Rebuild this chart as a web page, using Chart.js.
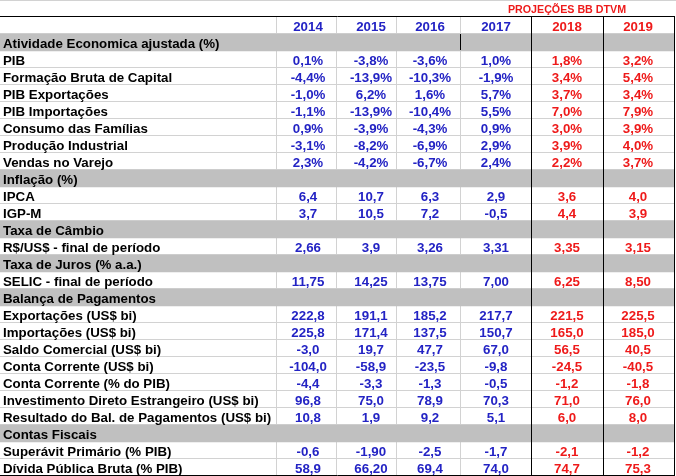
<!DOCTYPE html>
<html>
<head>
<meta charset="utf-8">
<script src="https://cdn.jsdelivr.net/npm/chart.js@4"></script>
<style>
  html, body { margin: 0; padding: 0; background: #fff; }
  canvas { display: block; }
</style>
</head>
<body>
<canvas id="tabela" width="676" height="476"></canvas>
<script>
const years = ['2014', '2015', '2016', '2017', '2018', '2019'];
const firstProjected = 4; // 2018 and 2019 are BB DTVM projections
const projTitle = 'PROJEÇÕES BB DTVM';

const sections = ['Atividade Economica ajustada (%)', 'Inflação (%)', 'Taxa de Câmbio',
  'Taxa de Juros (% a.a.)', 'Balança de Pagamentos', 'Contas Fiscais'];

const rows = [
  'Atividade Economica ajustada (%)', 'PIB', 'Formação Bruta de Capital', 'PIB Exportações',
  'PIB Importações', 'Consumo das Famílias', 'Produção Industrial', 'Vendas no Varejo',
  'Inflação (%)', 'IPCA', 'IGP-M',
  'Taxa de Câmbio', 'R$/US$ - final de período',
  'Taxa de Juros (% a.a.)', 'SELIC - final de período',
  'Balança de Pagamentos', 'Exportações (US$ bi)', 'Importações (US$ bi)', 'Saldo Comercial (US$ bi)',
  'Conta Corrente (US$ bi)', 'Conta Corrente (% do PIB)', 'Investimento Direto Estrangeiro (US$ bi)',
  'Resultado do Bal. de Pagamentos (US$ bi)',
  'Contas Fiscais', 'Superávit Primário (% PIB)', 'Dívida Pública Bruta (% PIB)'
];

const v2014 = [null, '0,1%', '-4,4%', '-1,0%', '-1,1%', '0,9%', '-3,1%', '2,3%', null, '6,4', '3,7', null, '2,66', null, '11,75',
  null, '222,8', '225,8', '-3,0', '-104,0', '-4,4', '96,8', '10,8', null, '-0,6', '58,9'];
const v2015 = [null, '-3,8%', '-13,9%', '6,2%', '-13,9%', '-3,9%', '-8,2%', '-4,2%', null, '10,7', '10,5', null, '3,9', null, '14,25',
  null, '191,1', '171,4', '19,7', '-58,9', '-3,3', '75,0', '1,9', null, '-1,90', '66,20'];
const v2016 = [null, '-3,6%', '-10,3%', '1,6%', '-10,4%', '-4,3%', '-6,9%', '-6,7%', null, '6,3', '7,2', null, '3,26', null, '13,75',
  null, '185,2', '137,5', '47,7', '-23,5', '-1,3', '78,9', '9,2', null, '-2,5', '69,4'];
const v2017 = [null, '1,0%', '-1,9%', '5,7%', '5,5%', '0,9%', '2,9%', '2,4%', null, '2,9', '-0,5', null, '3,31', null, '7,00',
  null, '217,7', '150,7', '67,0', '-9,8', '-0,5', '70,3', '5,1', null, '-1,7', '74,0'];
const v2018 = [null, '1,8%', '3,4%', '3,7%', '7,0%', '3,0%', '3,9%', '2,2%', null, '3,6', '4,4', null, '3,35', null, '6,25',
  null, '221,5', '165,0', '56,5', '-24,5', '-1,2', '71,0', '6,0', null, '-2,1', '74,7'];
const v2019 = [null, '3,2%', '5,4%', '3,4%', '7,9%', '3,9%', '4,0%', '3,7%', null, '4,0', '3,9', null, '3,15', null, '8,50',
  null, '225,5', '185,0', '40,5', '-40,5', '-1,8', '76,0', '8,0', null, '-1,2', '75,3'];
const columns = [v2014, v2015, v2016, v2017, v2018, v2019];

// layout (x axis units = sheet pixels)
const colEdges = [0, 276, 336, 396, 460, 531, 603, 674];
const colCenters = [308, 371, 430, 496, 567, 638];
const labelX = 3;
const FONT = '"Liberation Sans", Arial, sans-serif';
const BLUE = '#2323c4';
const RED = '#ee1a1a';

// category rows: title row, year header row, then the sheet rows
const categories = ['proj', 'anos'].concat(rows);
const grayBands = categories.map(c => sections.includes(c) ? [colEdges[0], colEdges[colEdges.length - 1]] : null);

const tablePlugin = {
  id: 'tablePlugin',
  beforeDatasetsDraw(chart) {
    const { ctx, scales: { x, y } } = chart;
    const band = y.getPixelForValue(1) - y.getPixelForValue(0);
    const top = i => Math.round(y.getPixelForValue(i) - band / 2);
    const bottom = top(categories.length - 1) + band;
    const x0 = x.getPixelForValue(colEdges[0]);
    const x1 = x.getPixelForValue(colEdges[colEdges.length - 1]);
    ctx.save();
    ctx.strokeStyle = '#d2d2d2';
    ctx.lineWidth = 1;
    ctx.beginPath();
    ctx.moveTo(x0, top(0) + 0.5);
    ctx.lineTo(x1 + 2, top(0) + 0.5);
    for (let i = 2; i < categories.length; i++) {
      ctx.moveTo(x0, top(i) - 0.5);
      ctx.lineTo(x1, top(i) - 0.5);
    }
    for (let c = 1; c < colEdges.length - 1; c++) {
      const px = Math.round(x.getPixelForValue(colEdges[c])) + 0.5;
      ctx.moveTo(px, top(1));
      ctx.lineTo(px, bottom);
    }
    ctx.stroke();
    ctx.restore();
  },
  afterDatasetsDraw(chart) {
    const { ctx, scales: { x, y } } = chart;
    const band = y.getPixelForValue(1) - y.getPixelForValue(0);
    const top = i => Math.round(y.getPixelForValue(i) - band / 2);
    const bottom = top(categories.length - 1) + band;
    const x0 = x.getPixelForValue(colEdges[0]);
    const x1 = x.getPixelForValue(colEdges[colEdges.length - 1]);
    ctx.save();

    // black borders
    ctx.strokeStyle = '#000';
    ctx.lineWidth = 1;
    ctx.beginPath();
    ctx.moveTo(x0, top(1) - 0.5);
    ctx.lineTo(x1 + 1, top(1) - 0.5);
    ctx.moveTo(x0, bottom - 0.5);
    ctx.lineTo(x1 + 1, bottom - 0.5);
    for (let c = 5; c < colEdges.length; c++) {
      const px = Math.round(x.getPixelForValue(colEdges[c])) + 0.5;
      ctx.moveTo(px, top(1) - 1);
      ctx.lineTo(px, bottom);
    }
    const p17 = Math.round(x.getPixelForValue(colEdges[4])) + 0.5;
    ctx.moveTo(p17, top(2));
    ctx.lineTo(p17, top(3) - 1);
    ctx.stroke();

    // title over projections
    ctx.textAlign = 'center';
    ctx.textBaseline = 'alphabetic';
    ctx.fillStyle = RED;
    ctx.font = 'bold 10.7px ' + FONT;
    ctx.fillText(projTitle, x.getPixelForValue(colCenters[firstProjected]), y.getPixelForValue(0) + 4);

    // year header
    ctx.font = 'bold 13.3px ' + FONT;
    years.forEach((yr, c) => {
      ctx.fillStyle = c >= firstProjected ? RED : BLUE;
      ctx.fillText(yr, x.getPixelForValue(colCenters[c]), y.getPixelForValue(1) + 5.5);
    });

    // row labels
    ctx.textAlign = 'left';
    ctx.fillStyle = '#000';
    rows.forEach((lab, r) => {
      ctx.fillText(lab, x.getPixelForValue(labelX), y.getPixelForValue(r + 2) + 5);
    });

    // values
    ctx.textAlign = 'center';
    columns.forEach((col, c) => {
      ctx.fillStyle = c >= firstProjected ? RED : BLUE;
      col.forEach((v, r) => {
        if (v === null) return;
        ctx.fillText(v, x.getPixelForValue(colCenters[c]), y.getPixelForValue(r + 2) + 5);
      });
    });
    ctx.restore();
  }
};

new Chart(document.getElementById('tabela'), {
  type: 'bar',
  data: {
    labels: categories,
    datasets: [{
      data: grayBands,
      backgroundColor: '#c0c0c0',
      borderWidth: 0,
      barPercentage: 1,
      categoryPercentage: 1
    }]
  },
  options: {
    indexAxis: 'y',
    responsive: false,
    animation: false,
    layout: { padding: 0 },
    plugins: { legend: { display: false }, tooltip: { enabled: false } },
    scales: {
      x: { type: 'linear', min: 0, max: 676, display: false },
      y: { type: 'category', offset: true, display: false }
    }
  },
  plugins: [tablePlugin]
});
</script>
</body>
</html>
